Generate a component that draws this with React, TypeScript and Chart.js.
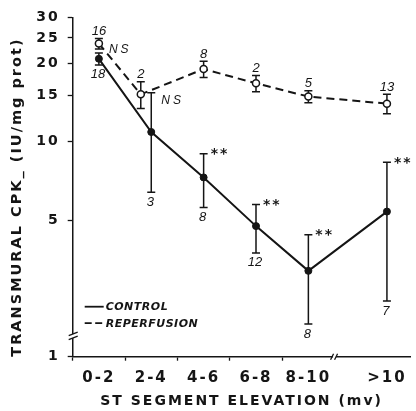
import React, { useEffect, useRef } from 'react';
import { Chart, registerables } from 'chart.js';

Chart.register(...registerables);

// ---------------- data ----------------
const categories = ['0-2', '2-4', '4-6', '6-8', '8-10', '>10'];
const controlMean = [20.8, 10.9, 7.3, 4.75, 3.2, 5.4];
const controlSem = [1.1, 4.5, 1.7, 1.0, 1.2, 2.95];
const controlN = ['18', '3', '8', '12', '8', '7'];
const reperfusionMean = [23.8, 15.2, 19.0, 16.75, 14.9, 14.0];
const reperfusionSem = [1.1, 1.8, 1.35, 1.2, 0.8, 1.2];
const reperfusionN = ['16', '2', '8', '2', '5', '13'];
const significance = ['NS', 'NS', '**', '**', '**', '**'];
const yTickLabels = [1, 5, 10, 15, 20, 25, 30];
const xBinEdges = [0, 2, 4, 6, 8];

// ---------------- axis / layout settings ----------------
const Y_FLOOR = 1.5; // broken axis: bottom of the axis carries the "1" label
const Y_MAX = 30;
const Y_BREAK = 1.8;
const X_MIN = 0;
const X_MAX = 12.9;
const X_BREAK = 10;
const DODGE = 0.4;
const INK = '#151515';
const FONT = '"DejaVu Sans", sans-serif';

const binCenter = (label: string) => {
  if (label.startsWith('>')) return parseFloat(label.slice(1)) + 2; // open bin, drawn past the break
  const [a, b] = label.split('-').map(Number);
  return (a + b) / 2;
};
const controlX = categories.map(binCenter);
const barsOverlap = (i: number) =>
  reperfusionMean[i] - reperfusionSem[i] <= controlMean[i] + controlSem[i];
const reperfusionX = categories.map((c, i) => binCenter(c) - (barsOverlap(i) ? DODGE : 0));

const letterSpacingPlugin = {
  id: 'letterSpacing',
  beforeDraw(chart: any) {
    chart.ctx.letterSpacing = '2px';
  },
};

const errorBarPlugin = {
  id: 'errorBars',
  beforeDatasetsDraw(chart: any) {
    const { ctx, scales } = chart;
    const x = scales.x;
    const y = scales.y;
    ctx.save();
    ctx.strokeStyle = INK;
    ctx.lineWidth = 1.5;
    const series = [
      { xs: controlX, mean: controlMean, sem: controlSem },
      { xs: reperfusionX, mean: reperfusionMean, sem: reperfusionSem },
    ];
    for (const s of series) {
      s.mean.forEach((m, i) => {
        const px = x.getPixelForValue(s.xs[i]);
        const top = y.getPixelForValue(m + s.sem[i]);
        const bot = y.getPixelForValue(m - s.sem[i]);
        ctx.beginPath();
        ctx.moveTo(px, top);
        ctx.lineTo(px, bot);
        ctx.moveTo(px - 4, top);
        ctx.lineTo(px + 4, top);
        ctx.moveTo(px - 4, bot);
        ctx.lineTo(px + 4, bot);
        ctx.stroke();
      });
    }
    ctx.restore();
  },
};

const annotationPlugin = {
  id: 'annotations',
  afterDatasetsDraw(chart: any) {
    const { ctx, scales } = chart;
    const x = scales.x;
    const y = scales.y;
    ctx.save();
    ctx.fillStyle = INK;
    ctx.textBaseline = 'alphabetic';
    // sample sizes
    ctx.font = `italic 13px "Liberation Sans", sans-serif`;
    ctx.letterSpacing = '0px';
    ctx.textAlign = 'center';
    categories.forEach((_, i) => {
      const rx = x.getPixelForValue(reperfusionX[i]);
      const rTop = y.getPixelForValue(reperfusionMean[i] + reperfusionSem[i]);
      ctx.fillText(reperfusionN[i], rx, rTop - 3.5);
      const cx = x.getPixelForValue(controlX[i]);
      const cBot = y.getPixelForValue(controlMean[i] - controlSem[i]);
      ctx.fillText(controlN[i], cx - 1, cBot + 13.5);
    });
    // significance marks
    ctx.textAlign = 'left';
    categories.forEach((_, i) => {
      const sig = significance[i];
      if (sig === 'NS') {
        ctx.font = `italic 12px "Liberation Sans", sans-serif`;
        ctx.letterSpacing = '3px';
        const px = x.getPixelForValue(controlX[i]) + 10;
        const py = y.getPixelForValue(reperfusionMean[i]) + 9.5;
        ctx.fillText(sig, px, py);
      } else {
        ctx.font = `bold 14px ${FONT}`;
        ctx.letterSpacing = '2px';
        const px = x.getPixelForValue(controlX[i]) + 7;
        const py = y.getPixelForValue(controlMean[i] + controlSem[i]) + 4.5;
        ctx.fillText(sig, px, py);
      }
    });
    ctx.restore();
  },
};

const legendAndBreaksPlugin = {
  id: 'legendAndBreaks',
  afterDraw(chart: any) {
    const { ctx, chartArea, scales } = chart;
    const x = scales.x;
    const y = scales.y;
    ctx.save();
    // legend
    const lx = chartArea.left + 12;
    const rows = [
      { label: chart.data.datasets[0].label, dash: [] as number[], y: chartArea.bottom - 50 },
      { label: chart.data.datasets[1].label, dash: [7, 3.5], y: chartArea.bottom - 33.5 },
    ];
    ctx.strokeStyle = INK;
    ctx.fillStyle = INK;
    ctx.lineWidth = 1.8;
    ctx.font = `italic bold 11px ${FONT}`;
    ctx.letterSpacing = '0.5px';
    ctx.textBaseline = 'middle';
    ctx.textAlign = 'left';
    for (const r of rows) {
      ctx.setLineDash(r.dash);
      ctx.beginPath();
      ctx.moveTo(lx, r.y);
      ctx.lineTo(lx + 19, r.y);
      ctx.stroke();
      ctx.setLineDash([]);
      ctx.fillText(r.label, lx + 21, r.y + 0.5);
    }
    // y axis break
    const ax = chartArea.left;
    const yb = y.getPixelForValue(Y_BREAK);
    ctx.fillStyle = '#ffffff';
    ctx.fillRect(ax - 2, yb - 2, 4, 4);
    ctx.lineWidth = 1.3;
    ctx.beginPath();
    ctx.moveTo(ax - 4, yb - 0.5);
    ctx.lineTo(ax + 5, yb - 4);
    ctx.moveTo(ax - 4, yb + 3.5);
    ctx.lineTo(ax + 5, yb);
    ctx.stroke();
    // x axis break
    const xb = x.getPixelForValue(X_BREAK);
    const ay = chartArea.bottom;
    ctx.fillRect(xb - 1.5, ay - 2, 3, 4);
    ctx.beginPath();
    ctx.moveTo(xb - 4, ay + 3);
    ctx.lineTo(xb - 1, ay - 3);
    ctx.moveTo(xb, ay + 3);
    ctx.lineTo(xb + 3, ay - 3);
    ctx.stroke();
    ctx.restore();
  },
};

export default function App() {
  const canvasRef = useRef<HTMLCanvasElement | null>(null);

  useEffect(() => {
    if (!canvasRef.current) return;
    const chart = new Chart(canvasRef.current, {
      type: 'line',
      data: {
        datasets: [
          {
            label: 'CONTROL',
            data: categories.map((_, i) => ({ x: controlX[i], y: controlMean[i] })),
            borderColor: INK,
            borderWidth: 2,
            pointRadius: 3.5,
            pointBackgroundColor: INK,
            pointBorderColor: INK,
            pointBorderWidth: 1,
            tension: 0,
            fill: false,
          },
          {
            label: 'REPERFUSION',
            data: categories.map((_, i) => ({ x: reperfusionX[i], y: reperfusionMean[i] })),
            borderColor: INK,
            borderWidth: 2,
            borderDash: [8, 5],
            pointRadius: 3.5,
            pointBackgroundColor: '#ffffff',
            pointBorderColor: INK,
            pointBorderWidth: 1.5,
            tension: 0,
            fill: false,
          },
        ],
      },
      options: {
        animation: false,
        responsive: true,
        maintainAspectRatio: false,
        events: [],
        layout: { padding: { top: 17.3, right: 3, left: 0, bottom: 0 } },
        plugins: {
          legend: { display: false },
          tooltip: { enabled: false },
        },
        scales: {
          x: {
            type: 'linear',
            min: X_MIN,
            max: X_MAX,
            afterBuildTicks: (scale: any) => {
              const vals = [...xBinEdges, ...controlX].sort((a, b) => a - b);
              scale.ticks = vals.map((v) => ({ value: v }));
            },
            afterFit: (scale: any) => {
              scale.height = 54.3;
              scale.paddingLeft = 0;
              scale.paddingRight = 0;
            },
            ticks: {
              autoSkip: false,
              maxRotation: 0,
              padding: 8.3,
              color: INK,
              font: { family: FONT, size: 15, weight: 'bold' },
              callback: (value: any) => {
                const i = controlX.indexOf(Number(value));
                return i >= 0 ? categories[i] : '';
              },
            },
            grid: {
              drawOnChartArea: false,
              drawTicks: true,
              tickLength: 4,
              tickWidth: 1.3,
              tickColor: (ctx: any) =>
                ctx.tick && xBinEdges.includes(ctx.tick.value) ? INK : 'rgba(0,0,0,0)',
            },
            border: { display: true, color: INK, width: 1.5 },
            title: {
              display: true,
              text: 'ST SEGMENT ELEVATION (mv)',
              color: INK,
              font: { family: FONT, size: 14, weight: 'bold' },
              padding: { top: 0, bottom: 1.6 },
            },
          },
          y: {
            type: 'logarithmic',
            min: Y_FLOOR,
            max: Y_MAX,
            afterBuildTicks: (scale: any) => {
              scale.ticks = yTickLabels.map((v) => ({ value: Math.max(v, Y_FLOOR) }));
            },
            afterFit: (scale: any) => {
              scale.width = 72.7;
              scale.paddingTop = 0;
              scale.paddingBottom = 0;
            },
            ticks: {
              autoSkip: false,
              padding: 8,
              color: INK,
              font: { family: FONT, size: 14, weight: 'bold' },
              callback: (_v: any, index: number) => String(yTickLabels[index]),
            },
            grid: {
              drawOnChartArea: false,
              drawTicks: true,
              tickLength: 5,
              tickWidth: 1.3,
              tickColor: INK,
            },
            border: { display: true, color: INK, width: 1.5 },
            title: {
              display: true,
              text: 'TRANSMURAL CPK_ (IU/mg prot)',
              align: 'start',
              color: INK,
              font: { family: FONT, size: 14.5, weight: 'bold' },
              padding: { top: 8.8, bottom: 0 },
            },
          },
        },
      } as any,
      plugins: [letterSpacingPlugin, errorBarPlugin, annotationPlugin, legendAndBreaksPlugin],
    });
    return () => chart.destroy();
  }, []);

  return (
    <div
      style={{
        position: 'fixed',
        left: 0,
        top: 0,
        width: 416,
        height: 411,
        background: '#ffffff',
      }}
    >
      <canvas ref={canvasRef} />
    </div>
  );
}
